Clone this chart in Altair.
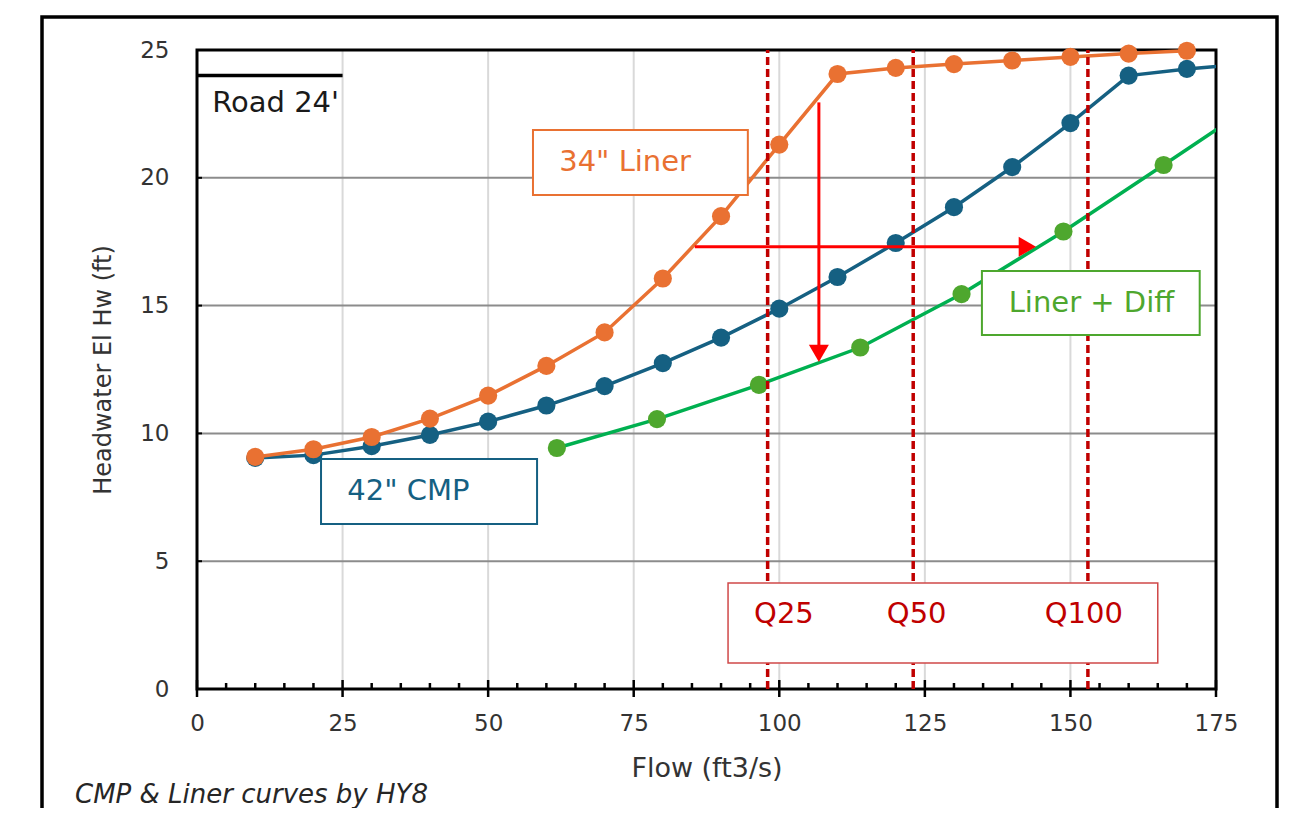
import altair as alt
import pandas as pd

FONT = "DejaVu Sans"

# ---------------- data ----------------
flow = [10, 20, 30, 40, 50, 60, 70, 80, 90, 100, 110, 120, 130, 140, 150, 160, 170]
liner34 = [9.08, 9.38, 9.86, 10.58, 11.48, 12.64, 13.95, 16.06, 18.5, 21.3,
           24.06, 24.3, 24.45, 24.59, 24.73, 24.86, 24.97]
cmp42 = [9.04, 9.15, 9.5, 9.94, 10.46, 11.09, 11.85, 12.75, 13.75, 14.88,
         16.12, 17.45, 18.85, 20.42, 22.14, 24.0, 24.26]
# the curve continues past the right edge of the plot
cmp42_next_flow = [180]
cmp42_next_hw = [24.45]

diff_flow = [61.8, 79.0, 96.5, 113.9, 131.3, 148.8, 166.0]
diff_hw = [9.43, 10.56, 11.9, 13.36, 15.45, 17.9, 20.5]
diff_next_flow = [183.0]
diff_next_hw = [23.1]

q_flow = [98, 123, 153]
q_names = ["Q25", "Q50", "Q100"]
q_label_x = [100.8, 123.6, 152.3]

road_flow = [0, 25]
road_hw = [24, 24]

x_ticks = [0, 25, 50, 75, 100, 125, 150, 175]
x_grid = [25, 50, 75, 100, 125, 150]
x_minor = [v for v in range(5, 175, 5) if v % 25 != 0]
y_ticks = [0, 5, 10, 15, 20, 25]
y_grid = [5, 10, 15, 20]

# annotation boxes (data units)
box_names = ["34\" Liner", "42\" CMP", "Liner + Diff"]
box_x0 = [57.7, 21.3, 134.8]
box_x1 = [94.6, 58.4, 172.2]
box_y0 = [19.33, 6.46, 13.85]
box_y1 = [21.87, 9.0, 16.35]
box_tx = [62.2, 25.8, 139.4]
box_ty = [20.6, 7.73, 15.1]
box_colors = ["#E97132", "#156082", "#4EA72E"]

qbox_x = [91.2, 165.0]
qbox_y = [1.02, 4.15]
q_label_y = 2.92

# red arrows
varrow_x = 106.8
varrow_y = [22.95, 13.4]
varrow_head_y = 13.13
harrow_y = 17.3
harrow_x = [85.5, 141.5]
harrow_head_x = 142.6

W, H = 1019, 639

xscale = alt.Scale(domain=[0, 175], nice=False, zero=False)
yscale = alt.Scale(domain=[0, 25], nice=False, zero=False)
TXT = "#333333"

xaxis = alt.Axis(values=x_ticks, grid=False, ticks=False, domain=False,
                 labelFont=FONT, labelFontSize=23, labelColor=TXT, labelPadding=23,
                 labelFlush=False, labelOverlap=False,
                 title="Flow (ft3/s)", titleFont=FONT, titleFontSize=27,
                 titleFontWeight="normal", titleColor=TXT, titleY=79,
                 titleBaseline="middle")
yaxis = alt.Axis(values=y_ticks, grid=False, ticks=False, domain=False,
                 labelFont=FONT, labelFontSize=23, labelColor=TXT, labelPadding=28,
                 labelFlush=False, labelOverlap=False,
                 title="Headwater El Hw (ft)", titleFont=FONT, titleFontSize=24,
                 titleFontWeight="normal", titleColor=TXT, titleX=-94,
                 titleY=H / 2, titleAngle=270, titleBaseline="middle",
                 titleAlign="center")


def X(f):
    return alt.X(f, type="quantitative", scale=xscale, axis=xaxis)


def Y(f):
    return alt.Y(f, type="quantitative", scale=yscale, axis=yaxis)


one = pd.DataFrame({"a": [0]})

# grid
vgrid = alt.Chart(pd.DataFrame({"x": x_grid})).mark_rule(
    color="#D9D9D9", strokeWidth=2).encode(x=X("x"))
hgrid = alt.Chart(pd.DataFrame({"y": y_grid})).mark_rule(
    color="#8C8C8C", strokeWidth=2).encode(y=Y("y"))

border = alt.Chart(pd.DataFrame({"x0": [0], "x1": [175], "y0": [0], "y1": [25]})).mark_rect(
    filled=False, stroke="black", strokeWidth=3).encode(
    x=X("x0"), x2="x1", y=Y("y0"), y2="y1")

road = alt.Chart(pd.DataFrame({"x": road_flow, "y": road_hw})).mark_line(
    color="black", strokeWidth=3.5).encode(x=X("x"), y=Y("y"))
road_txt = alt.Chart(pd.DataFrame({"x": [2.6], "y": [22.93], "t": ["Road 24'"]})).mark_text(
    font=FONT, fontSize=29, color="#1a1a1a", align="left", baseline="middle").encode(
    x=X("x"), y=Y("y"), text="t")

# series
cmp_line_df = pd.DataFrame({"x": flow + cmp42_next_flow, "y": cmp42 + cmp42_next_hw})
cmp_pts_df = pd.DataFrame({"x": flow, "y": cmp42})
lin_df = pd.DataFrame({"x": flow, "y": liner34})
diff_line_df = pd.DataFrame({"x": diff_flow + diff_next_flow, "y": diff_hw + diff_next_hw})
diff_pts_df = pd.DataFrame({"x": diff_flow, "y": diff_hw})

MS = 330
LW = 3.5
diff_line = alt.Chart(diff_line_df).mark_line(color="#00B050", strokeWidth=LW, clip=True).encode(
    x=X("x"), y=Y("y"))
diff_pts = alt.Chart(diff_pts_df).mark_point(filled=True, opacity=1, color="#4EA72E", size=MS,
                                             shape="circle").encode(x=X("x"), y=Y("y"))
cmp_line = alt.Chart(cmp_line_df).mark_line(color="#156082", strokeWidth=LW, clip=True).encode(
    x=X("x"), y=Y("y"))
cmp_pts = alt.Chart(cmp_pts_df).mark_point(filled=True, opacity=1, color="#156082", size=MS,
                                           shape="circle").encode(x=X("x"), y=Y("y"))
lin_line = alt.Chart(lin_df).mark_line(color="#E97132", strokeWidth=LW).encode(
    x=X("x"), y=Y("y"))
lin_pts = alt.Chart(lin_df).mark_point(filled=True, opacity=1, color="#E97132", size=MS,
                                       shape="circle").encode(x=X("x"), y=Y("y"))

# Q dashed lines
q_df = pd.DataFrame({"x": q_flow, "y0": [0] * 3, "y1": [25] * 3})
q_lines = alt.Chart(q_df).mark_rule(color="#C00000", strokeWidth=3.5, strokeDash=[8, 4]).encode(
    x=X("x"), y=Y("y0"), y2="y1")

# arrows
RED = "#FF0000"
varrow = alt.Chart(pd.DataFrame({"x": [varrow_x], "y0": [varrow_y[0]], "y1": [varrow_y[1]]})).mark_rule(
    color=RED, strokeWidth=3).encode(x=X("x"), y=Y("y0"), y2="y1")
varrow_head = alt.Chart(pd.DataFrame({"x": [varrow_x], "y": [varrow_head_y]})).mark_point(
    shape="triangle-down", filled=True, opacity=1, color=RED, size=400).encode(x=X("x"), y=Y("y"))
harrow = alt.Chart(pd.DataFrame({"x0": [harrow_x[0]], "x1": [harrow_x[1]], "y": [harrow_y]})).mark_rule(
    color=RED, strokeWidth=3).encode(x=X("x0"), x2="x1", y=Y("y"))
harrow_head = alt.Chart(pd.DataFrame({"x": [harrow_head_x], "y": [harrow_y]})).mark_point(
    shape="triangle-right", filled=True, opacity=1, color=RED, size=400).encode(x=X("x"), y=Y("y"))

# annotation boxes
box_df = pd.DataFrame({"name": box_names, "x0": box_x0, "x1": box_x1, "y0": box_y0,
                       "y1": box_y1, "tx": box_tx, "ty": box_ty, "c": box_colors})
cscale = alt.Scale(domain=box_names, range=box_colors)
boxes = alt.Chart(box_df).mark_rect(fill="white", strokeWidth=2).encode(
    x=X("x0"), x2="x1", y=Y("y0"), y2="y1",
    stroke=alt.Stroke("name:N", scale=cscale, legend=None))
box_txt = alt.Chart(box_df).mark_text(font=FONT, fontSize=29, align="left", baseline="middle").encode(
    x=X("tx"), y=Y("ty"), text="name:N",
    color=alt.Color("name:N", scale=cscale, legend=None))

qbox = alt.Chart(pd.DataFrame({"x0": [qbox_x[0]], "x1": [qbox_x[1]], "y0": [qbox_y[0]],
                               "y1": [qbox_y[1]]})).mark_rect(
    fill="white", stroke="#D04848", strokeWidth=1.5).encode(
    x=X("x0"), x2="x1", y=Y("y0"), y2="y1")
q_txt = alt.Chart(pd.DataFrame({"x": q_label_x, "y": [q_label_y] * 3, "t": q_names})).mark_text(
    font=FONT, fontSize=29, color="#C00000", align="center", baseline="middle").encode(
    x=X("x"), y=Y("y"), text="t")

# axis ticks
major = alt.Chart(pd.DataFrame({"x": x_ticks})).mark_rule(color="black", strokeWidth=2.5).encode(
    x=X("x"), y=alt.value(H - 9), y2=alt.value(H + 8))
minor = alt.Chart(pd.DataFrame({"x": x_minor})).mark_rule(color="black", strokeWidth=2.5).encode(
    x=X("x"), y=alt.value(H - 6), y2=alt.value(H))
yt = alt.Chart(pd.DataFrame({"y": y_ticks})).mark_rule(color="black", strokeWidth=2).encode(
    y=Y("y"), x=alt.value(0), x2=alt.value(5))

# outer frame and footnote
frame = alt.Chart(one).mark_rect(filled=False, stroke="black", strokeWidth=3.5).encode(
    x=alt.value(-155), x2=alt.value(1080), y=alt.value(-33), y2=alt.value(820))
foot = alt.Chart(pd.DataFrame({"t": ["CMP & Liner curves by HY8"]})).mark_text(
    font=FONT, fontSize=26, fontStyle="italic", color="#262626", align="left",
    baseline="middle").encode(x=alt.value(-122), y=alt.value(745), text="t")

chart = alt.layer(
    vgrid, hgrid, border, road, road_txt,
    diff_line, diff_pts, cmp_line, cmp_pts, lin_line, lin_pts,
    q_lines, varrow, varrow_head, harrow, harrow_head,
    boxes, box_txt, qbox, q_txt,
    major, minor, yt, frame, foot,
).properties(
    width=W, height=H,
    autosize=alt.AutoSizeParams(type="none"),
    padding={"left": 189, "top": 42, "right": 82, "bottom": 119},
).configure_view(stroke=None)

chart.save("out.html", embed_options={"renderer": "svg", "actions": False})
